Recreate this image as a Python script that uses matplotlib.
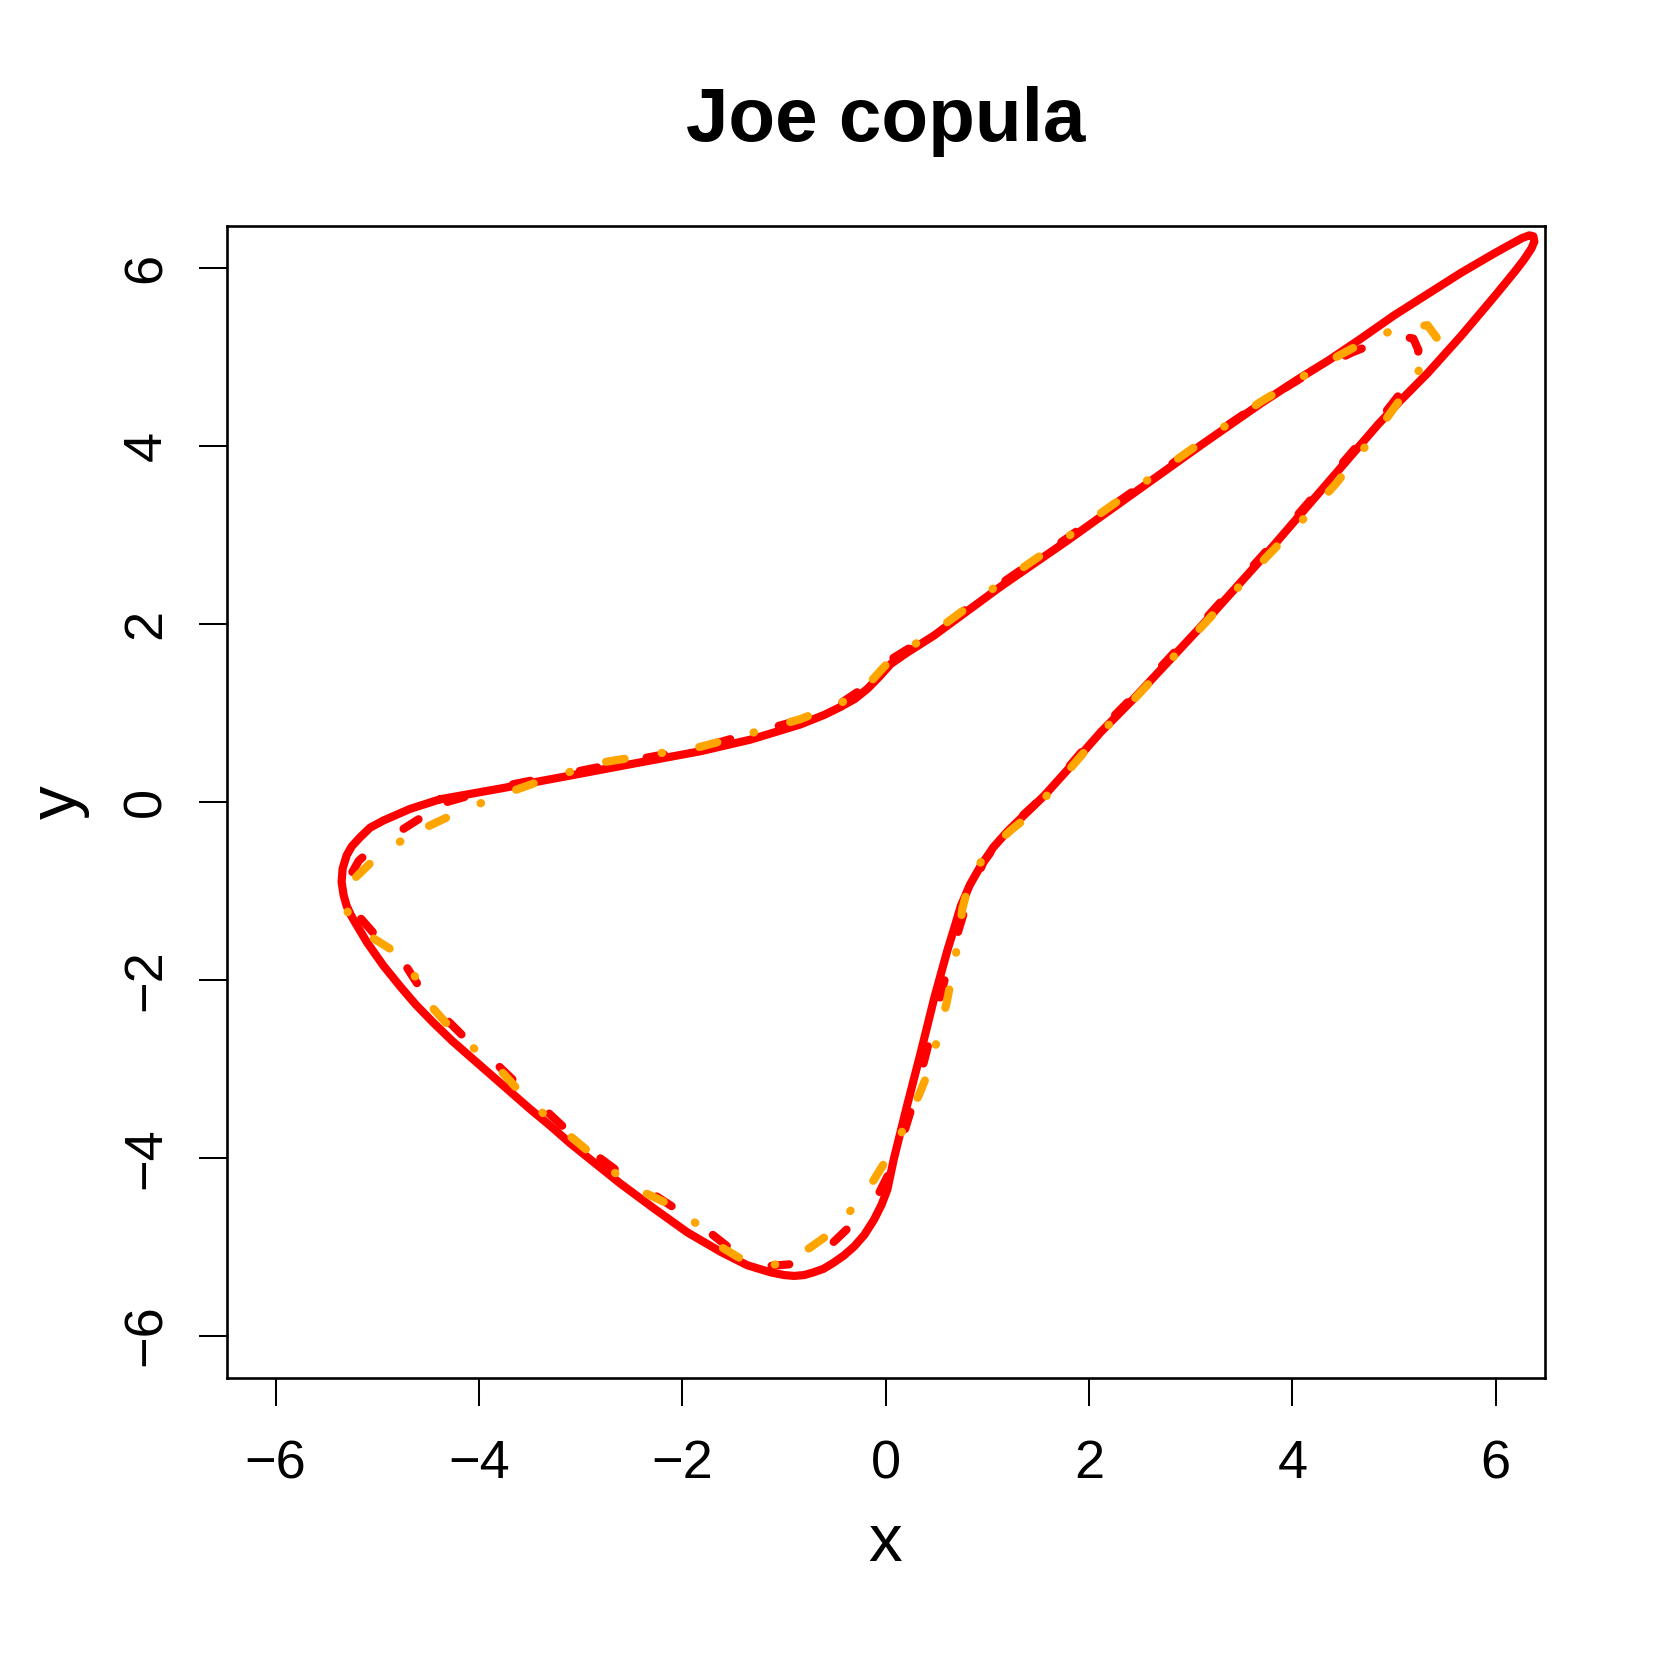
import matplotlib
matplotlib.use("Agg")
import matplotlib.pyplot as plt

# ---- data ----
title = "Joe copula"
x_label = "x"
y_label = "y"
ticks = [-6, -4, -2, 0, 2, 4, 6]
tick_labels = ["\u22126", "\u22124", "\u22122", "0", "2", "4", "6"]

true_x = [-4.38, -3.79, -3.13, -2.48, -1.82, -1.33, -0.84, -0.60, -0.44, -0.30, -0.18, -0.06, 0.05,
          0.20, 0.475, 1.13, 1.79, 2.12, 3.10, 3.69, 4.08, 4.35, 4.675, 5.00, 5.33, 5.66, 5.99,
          6.10, 6.18, 6.26, 6.33, 6.37, 6.38, 6.35, 6.28, 6.20, 6.10, 6.00, 5.66, 5.33, 5.07, 4.84,
          4.41, 3.76, 3.10, 2.44, 2.12, 1.82, 1.56, 1.37, 1.20, 1.06, 0.935, 0.83, 0.74, 0.68, 0.61,
          0.475, 0.345, 0.21, 0.08, 0.017, -0.04, -0.115, -0.21, -0.31, -0.41, -0.51, -0.61, -0.71,
          -0.80, -0.90, -1.00, -1.13, -1.36, -1.62, -1.95, -2.28, -2.61, -2.85, -3.10, -3.30, -3.50,
          -3.69, -3.88, -4.06, -4.26, -4.45, -4.62, -4.77, -4.94, -5.10, -5.22, -5.26, -5.30, -5.33,
          -5.35, -5.34, -5.30, -5.25, -5.17, -5.07, -4.94, -4.68, -4.38]
true_y = [0.03, 0.15, 0.29, 0.43, 0.57, 0.70, 0.87, 0.98, 1.07, 1.16, 1.27, 1.41, 1.55,
          1.67, 1.87, 2.42, 2.94, 3.21, 4.01, 4.48, 4.77, 4.96, 5.21, 5.47, 5.71, 5.95, 6.17,
          6.24, 6.29, 6.34, 6.37, 6.36, 6.30, 6.22, 6.10, 5.98, 5.84, 5.70, 5.24, 4.82, 4.52, 4.24,
          3.67, 2.81, 1.97, 1.16, 0.79, 0.40, 0.07, -0.14, -0.33, -0.51, -0.72, -0.93, -1.17, -1.40,
          -1.66, -2.22, -2.82, -3.42, -4.02, -4.36, -4.53, -4.70, -4.87, -5.00, -5.10, -5.18, -5.25,
          -5.29, -5.32, -5.33, -5.32, -5.29, -5.21, -5.06, -4.84, -4.57, -4.29, -4.07, -3.84, -3.64,
          -3.45, -3.26, -3.07, -2.89, -2.69, -2.48, -2.28, -2.08, -1.84, -1.58, -1.35, -1.27, -1.17,
          -1.05, -0.90, -0.75, -0.60, -0.50, -0.40, -0.29, -0.21, -0.08, 0.03]

fit_x = [-4.31, -3.79, -3.13, -2.48, -1.82, -1.33, -0.84, -0.44, -0.18, 0.05, 0.475, 1.13, 1.79, 2.12,
         3.10, 3.69, 4.08, 4.35, 4.58, 4.84, 5.05, 5.19, 5.24, 5.22, 5.12, 4.97, 4.84, 4.41, 3.76,
         3.10, 2.44, 2.12, 1.56, 1.20, 0.96, 0.79, 0.66, 0.53, 0.40, 0.28, 0.16, 0.04, -0.07, -0.23,
         -0.54, -0.755, -0.95, -1.16, -1.41, -1.72, -1.95, -2.30, -2.52, -2.85, -3.07, -3.36, -3.56,
         -3.86, -4.07, -4.35, -4.54, -4.76, -4.97, -5.17, -5.25, -5.28, -5.25, -5.18, -5.07, -4.82,
         -4.49, -4.31]
fit_y = [0.00, 0.17, 0.32, 0.47, 0.61, 0.77, 0.92, 1.11, 1.31, 1.60, 1.90, 2.45, 2.97, 3.24,
         4.03, 4.49, 4.76, 4.92, 5.05, 5.17, 5.24, 5.21, 5.08, 4.90, 4.68, 4.46, 4.27, 3.70, 2.84,
         2.00, 1.19, 0.82, 0.07, -0.31, -0.68, -1.17, -1.66, -2.22, -2.82, -3.35, -3.80, -4.16, -4.41,
         -4.64, -4.98, -5.13, -5.20, -5.22, -5.13, -4.85, -4.66, -4.40, -4.25, -3.97, -3.76, -3.45,
         -3.24, -2.91, -2.73, -2.41, -2.16, -1.77, -1.56, -1.30, -1.15, -0.98, -0.80, -0.66, -0.55,
         -0.36, -0.12, 0.00]

alt_x = [-4.49, -4.24, -3.95, -3.70, -3.38, -3.07, -2.81, -2.48, -1.82, -1.33, -0.84, -0.44, -0.18,
         0.05, 0.475, 1.13, 1.79, 2.12, 3.10, 3.69, 3.94, 4.215, 4.46, 4.74, 5.05, 5.33, 5.42, 5.32,
         5.17, 5.00, 4.81, 4.60, 4.43, 4.21, 3.76, 3.10, 2.44, 2.12, 1.43, 1.23, 0.98, 0.82, 0.755,
         0.71, 0.65, 0.60, 0.515, 0.43, 0.33, 0.19, 0.03, -0.115, -0.31, -0.52, -0.74, -0.95, -1.15,
         -1.36, -1.61, -1.84, -2.10, -2.36, -2.63, -2.88, -3.10, -3.35, -3.59, -3.77, -4.03, -4.28,
         -4.46, -4.62, -4.82, -5.07, -5.29, -5.30, -5.25, -5.05, -4.78, -4.49]
alt_y = [-0.27, -0.135, 0.00, 0.11, 0.24, 0.35, 0.44, 0.50, 0.62, 0.77, 0.93, 1.11, 1.31,
         1.60, 1.91, 2.46, 2.98, 3.25, 4.04, 4.50, 4.67, 4.86, 5.02, 5.19, 5.33, 5.36, 5.22, 5.015,
         4.69, 4.43, 4.125, 3.83, 3.58, 3.30, 2.77, 1.96, 1.15, 0.78, -0.135, -0.32, -0.585, -0.92, -1.20,
         -1.59, -1.97, -2.26, -2.64, -3.01, -3.29, -3.65, -3.98, -4.25, -4.55, -4.83, -5.01, -5.16, -5.22,
         -5.18, -5.01, -4.76, -4.54, -4.40, -4.20, -3.97, -3.76, -3.52, -3.27, -3.04, -2.79, -2.54,
         -2.31, -1.975, -1.69, -1.51, -1.25, -1.05, -0.89, -0.67, -0.45, -0.27]

# ---- figure ----
plt.rcParams['font.family'] = ['Liberation Sans', 'DejaVu Sans']
plt.rcParams['lines.scale_dashes'] = False

W = 1661
fig = plt.figure(figsize=(W / 100, W / 100), dpi=100)
L, R, T, B = 226.7, 1544.5, 225.6, 1378.2
ax = fig.add_axes([L / W, 1 - B / W, (R - L) / W, (B - T) / W])

lw = 5.9
ax.plot(true_x, true_y, color='#FF0000', lw=lw, solid_joinstyle='round', solid_capstyle='round')
ax.plot(fit_x, fit_y, color='#FF0000', lw=lw, linestyle=(0, (12.8, 36.2)),
        dash_capstyle='round', dash_joinstyle='round')
ax.plot(alt_x, alt_y, color='#FFA500', lw=lw, linestyle=(0, (13.5, 27.0, 0.4, 27.0)),
        dash_capstyle='round', dash_joinstyle='round')

ax.set_xlim(-6.48, 6.48)
ax.set_ylim(-6.48, 6.48)

ax.set_xticks(ticks)
ax.set_xticklabels(tick_labels)
ax.set_yticks(ticks)
ax.set_yticklabels(tick_labels, rotation=90, va='center')

for s in ax.spines.values():
    s.set_linewidth(1.9)
ax.tick_params(axis='both', direction='out', length=20.2, width=1.45, labelsize=39)
ax.tick_params(axis='x', pad=23.8)
ax.tick_params(axis='y', pad=19.5)

ax.set_xlabel(x_label, fontsize=48.5)
ax.set_ylabel(y_label, fontsize=48.5)
ax.xaxis.label.set_va('center')
ax.yaxis.label.set_va('center')
ax.xaxis.set_label_coords(0.5, (B - 1544) / (B - T))
ax.yaxis.set_label_coords((59 - L) / (R - L), 0.5)

fig.text(885.6 / W, 1 - 140.7 / W, title, ha='center', va='baseline',
         fontsize=55, fontweight='bold')

fig.savefig('out.png', dpi=100, facecolor='white')
